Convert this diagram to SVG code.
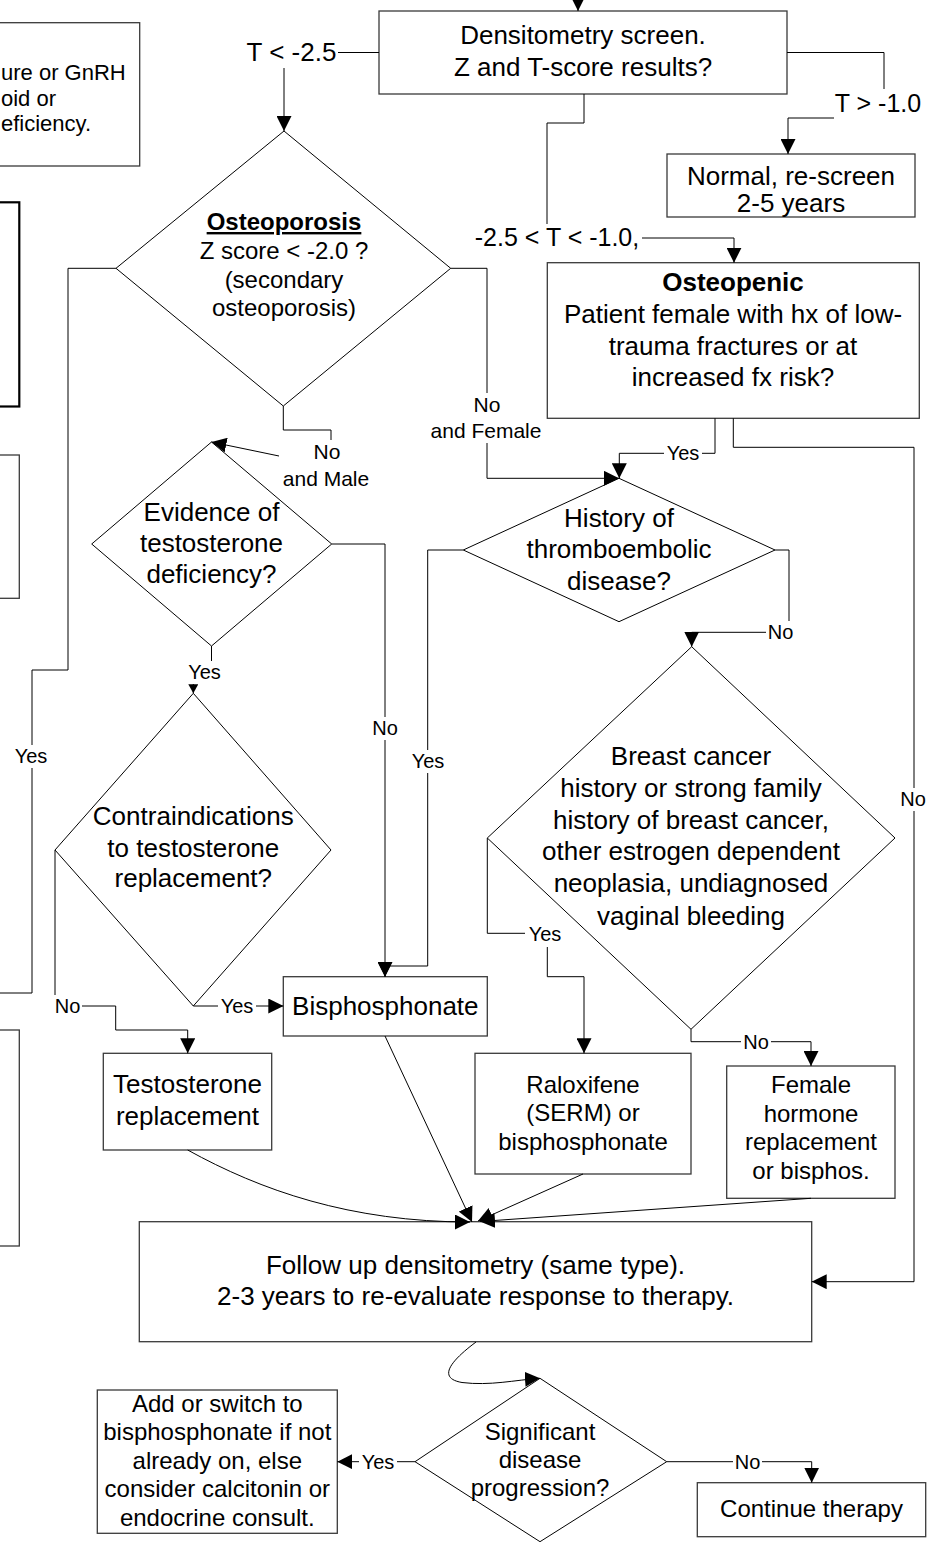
<svg xmlns="http://www.w3.org/2000/svg" width="931" height="1543" viewBox="0 0 931 1543">
<defs>
<style>
.box{fill:#fff;stroke:#3a3a3a;stroke-width:1.3}
.dia{fill:#fff;stroke:#000;stroke-width:1}
.c{fill:none;stroke:#000;stroke-width:1}
.t{font-family:"Liberation Sans",Arial,sans-serif;font-size:26px;fill:#000;text-anchor:middle}
.s24{font-size:24px}
.lb{font-family:"Liberation Sans",Arial,sans-serif;font-size:20px;fill:#000;text-anchor:middle}
.bg{fill:#fff;stroke:none}
</style>
<marker id="ah" viewBox="0 0 15 15" refX="15" refY="7.5" markerWidth="15" markerHeight="15" markerUnits="userSpaceOnUse" orient="auto"><path d="M0,0 L15,7.5 L0,15 z" fill="#000"/></marker>
<marker id="ahs" viewBox="0 0 9 10" refX="9" refY="5" markerWidth="9" markerHeight="10" markerUnits="userSpaceOnUse" orient="auto"><path d="M0,0 L9,5 L0,10 z" fill="#000"/></marker>
</defs>
<rect width="931" height="1543" fill="#fff"/>

<g id="nodes">
<g id="n-left-top"><rect class="box" x="-200" y="22.7" width="339.7" height="143.3"/>
<text class="t" style="text-anchor:start;font-size:22px"><tspan x="1" y="80">ure or GnRH</tspan><tspan x="1" y="106">oid or</tspan><tspan x="1" y="131">eficiency.</tspan></text></g>
<g id="n-left-1"><rect x="-100" y="202.3" width="119.3" height="204.2" fill="#fff" stroke="#000" stroke-width="2.2"/></g>
<g id="n-left-2"><rect class="box" x="-100" y="455" width="119.3" height="143.3"/></g>
<g id="n-left-3"><rect class="box" x="-100" y="1030" width="119.3" height="216"/></g>

<g id="n-densitometry"><rect class="box" x="379" y="11" width="408" height="83"/>
<text class="t"><tspan x="583" y="44">Densitometry screen.</tspan><tspan x="583" y="76">Z and T-score results?</tspan></text></g>

<g id="n-normal"><rect class="box" x="667" y="154" width="248" height="63"/>
<text class="t"><tspan x="791" y="185">Normal, re-screen</tspan><tspan x="791" y="212">2-5 years</tspan></text></g>

<g id="n-osteoporosis"><polygon class="dia" points="284,131 450.7,268.3 283.3,406 116,268.3"/>
<text class="t s24"><tspan x="284" y="230" font-weight="bold" text-decoration="underline">Osteoporosis</tspan><tspan x="284" y="259">Z score &lt; -2.0 ?</tspan><tspan x="284" y="288">(secondary</tspan><tspan x="284" y="316">osteoporosis)</tspan></text></g>

<g id="n-osteopenic"><rect class="box" x="547.3" y="262.7" width="372" height="155.6"/>
<text class="t"><tspan x="733" y="291" font-weight="bold">Osteopenic</tspan><tspan x="733" y="323">Patient female with hx of low-</tspan><tspan x="733" y="355">trauma fractures or at</tspan><tspan x="733" y="386">increased fx risk?</tspan></text></g>

<g id="n-evidence"><polygon class="dia" points="211.5,442 331.7,544 211.5,646 91.7,544"/>
<text class="t"><tspan x="211.5" y="521">Evidence of</tspan><tspan x="211.5" y="552">testosterone</tspan><tspan x="211.5" y="583">deficiency?</tspan></text></g>

<g id="n-thrombo"><polygon class="dia" points="619,478.3 775,550 619,621.7 463.3,550"/>
<text class="t"><tspan x="619" y="527">History of</tspan><tspan x="619" y="558">thromboembolic</tspan><tspan x="619" y="590">disease?</tspan></text></g>

<g id="n-breast"><polygon class="dia" points="691.7,646.7 895,838 691,1029.3 487.3,838"/>
<text class="t"><tspan x="691" y="765">Breast cancer</tspan><tspan x="691" y="797">history or strong family</tspan><tspan x="691" y="828.5">history of breast cancer,</tspan><tspan x="691" y="860">other estrogen dependent</tspan><tspan x="691" y="892">neoplasia, undiagnosed</tspan><tspan x="691" y="925">vaginal bleeding</tspan></text></g>

<g id="n-contra"><polygon class="dia" points="193.3,693.3 331,850 193.3,1006 55,850"/>
<text class="t"><tspan x="193.3" y="825">Contraindications</tspan><tspan x="193.3" y="857">to testosterone</tspan><tspan x="193.3" y="887">replacement?</tspan></text></g>

<g id="n-bisphos"><rect class="box" x="283.3" y="976.7" width="204" height="59.3"/>
<text class="t"><tspan x="385.3" y="1015">Bisphosphonate</tspan></text></g>

<g id="n-testosterone"><rect class="box" x="103.3" y="1053.3" width="168.4" height="96.7"/>
<text class="t"><tspan x="187.5" y="1093">Testosterone</tspan><tspan x="187.5" y="1125">replacement</tspan></text></g>

<g id="n-raloxifene"><rect class="box" x="475" y="1053.3" width="216" height="120.7"/>
<text class="t s24"><tspan x="583" y="1093">Raloxifene</tspan><tspan x="583" y="1121">(SERM) or</tspan><tspan x="583" y="1149.5">bisphosphonate</tspan></text></g>

<g id="n-female"><rect class="box" x="726.7" y="1066" width="168.3" height="132.3"/>
<text class="t s24"><tspan x="811" y="1093">Female</tspan><tspan x="811" y="1121.5">hormone</tspan><tspan x="811" y="1150">replacement</tspan><tspan x="811" y="1178.5">or bisphos.</tspan></text></g>

<g id="n-followup"><rect class="box" x="139.3" y="1221.7" width="672.4" height="120"/>
<text class="t"><tspan x="475.5" y="1274">Follow up densitometry (same type).</tspan><tspan x="475.5" y="1305">2-3 years to re-evaluate response to therapy.</tspan></text></g>

<g id="n-significant"><polygon class="dia" points="540,1378.3 666.7,1461.7 540,1541.7 415,1461.7"/>
<text class="t s24"><tspan x="540" y="1440">Significant</tspan><tspan x="540" y="1468">disease</tspan><tspan x="540" y="1495.5">progression?</tspan></text></g>

<g id="n-add"><rect class="box" x="97.3" y="1390" width="240" height="143.3"/>
<text class="t s24"><tspan x="217.3" y="1412">Add or switch to</tspan><tspan x="217.3" y="1440">bisphosphonate if not</tspan><tspan x="217.3" y="1468.5">already on, else</tspan><tspan x="217.3" y="1497">consider calcitonin or</tspan><tspan x="217.3" y="1525.5">endocrine consult.</tspan></text></g>

<g id="n-continue"><rect class="box" x="697.3" y="1482.7" width="228.4" height="54"/>
<text class="t s24"><tspan x="811.5" y="1517">Continue therapy</tspan></text></g>
</g>

<g id="connectors">
<path class="c" d="M578,-10 V11" marker-end="url(#ah)"/>
<path class="c" d="M379,52.5 H284 V131" marker-end="url(#ah)"/>
<path class="c" d="M787,52.5 H884 V118 H788 V154" marker-end="url(#ah)"/>
<path class="c" d="M584,94 V123 H547 V238 H734 V262.7" marker-end="url(#ah)"/>
<path class="c" d="M116,268.3 H68 V670 H32 V993 H-5"/>
<path class="c" d="M283.3,406 V430 H331 V444 M279,456 L211.5,442" marker-end="url(#ah)"/>
<path class="c" d="M450.7,268.3 H487 V478.3 H619" marker-end="url(#ah)"/>
<path class="c" d="M331.7,544 H385 V976.7" marker-end="url(#ah)"/>
<path class="c" d="M463.3,550 H427.7 V966 H385 V976.7" marker-end="url(#ah)"/>
<path class="c" d="M211.5,646 V672 H193.3 V693.3" marker-end="url(#ahs)"/>
<path class="c" d="M55,850 V1006 H115.7 V1030 H187.7 V1053.3" marker-end="url(#ah)"/>
<path class="c" d="M193.3,1006 H283.3" marker-end="url(#ah)"/>
<path class="c" d="M715,418.3 V453.3 H619.3 V478.3" marker-end="url(#ah)"/>
<path class="c" d="M733.3,418.3 V447.3 H914 V1281.7 H811.7" marker-end="url(#ah)"/>
<path class="c" d="M775,550 H789 V632.3 H691.7 V646.7" marker-end="url(#ah)"/>
<path class="c" d="M487.3,838 V933.3 H547.3 V976.7 H584 V1053.3" marker-end="url(#ah)"/>
<path class="c" d="M691,1029.3 V1041.7 H811 V1066" marker-end="url(#ah)"/>
<path class="c" d="M187.7,1150 C260,1190 350,1222 470,1222" marker-end="url(#ah)"/>
<path class="c" d="M385,1036 L472,1222" marker-end="url(#ah)"/>
<path class="c" d="M583,1174 L478,1221" marker-end="url(#ah)"/>
<path class="c" d="M811,1198.3 L480,1221.5" marker-end="url(#ah)"/>
<path class="c" d="M476,1342 C452,1360 436,1378 462,1382.5 C490,1386 515,1380 540,1378.3" marker-end="url(#ah)"/>
<path class="c" d="M415,1461.7 H337.3" marker-end="url(#ah)"/>
<path class="c" d="M666.7,1461.7 H811.7 V1482.7" marker-end="url(#ah)"/>

<g id="labels">
<rect class="bg" x="245" y="38" width="93" height="30"/><text class="t" x="291.5" y="61">T &lt; -2.5</text>
<rect class="bg" x="834" y="89" width="88" height="31"/><text class="t" style="font-size:25px" x="878" y="112">T &gt; -1.0</text>
<rect class="bg" x="472" y="224" width="170" height="28"/><text class="t" style="font-size:25px" x="557" y="246">-2.5 &lt; T &lt; -1.0,</text>
<rect class="bg" x="12" y="745" width="38" height="23"/><text class="lb" x="31" y="763">Yes</text>
<rect class="bg" x="279" y="440" width="95" height="52"/><text class="lb" style="font-size:21px"><tspan x="327" y="459">No</tspan><tspan x="326" y="486">and  Male</tspan></text>
<rect class="bg" x="428" y="393" width="116" height="50"/><text class="lb" style="font-size:21px"><tspan x="487" y="412">No</tspan><tspan x="486" y="438">and Female</tspan></text>
<rect class="bg" x="371" y="717" width="28" height="23"/><text class="lb" x="385" y="735">No</text>
<rect class="bg" x="409" y="750" width="38" height="23"/><text class="lb" x="428" y="768">Yes</text>
<rect class="bg" x="186" y="661" width="37" height="23"/><text class="lb" x="204.5" y="679">Yes</text>
<rect class="bg" x="53" y="995" width="29" height="22"/><text class="lb" x="67.5" y="1013">No</text>
<rect class="bg" x="218" y="995" width="38" height="22"/><text class="lb" x="237" y="1013">Yes</text>
<rect class="bg" x="664" y="443" width="38" height="22"/><text class="lb" x="683" y="460">Yes</text>
<rect class="bg" x="899" y="788" width="28" height="23"/><text class="lb" x="913" y="806">No</text>
<rect class="bg" x="766" y="621" width="29" height="23"/><text class="lb" x="780.5" y="639">No</text>
<rect class="bg" x="525" y="923" width="39" height="24"/><text class="lb" x="545" y="941">Yes</text>
<rect class="bg" x="741" y="1031" width="30" height="22"/><text class="lb" x="756" y="1048.7">No</text>
<rect class="bg" x="359" y="1451" width="38" height="23"/><text class="lb" x="378" y="1469">Yes</text>
<rect class="bg" x="733" y="1451" width="29" height="23"/><text class="lb" x="747.5" y="1469">No</text>
</g>
</g>
</svg>
